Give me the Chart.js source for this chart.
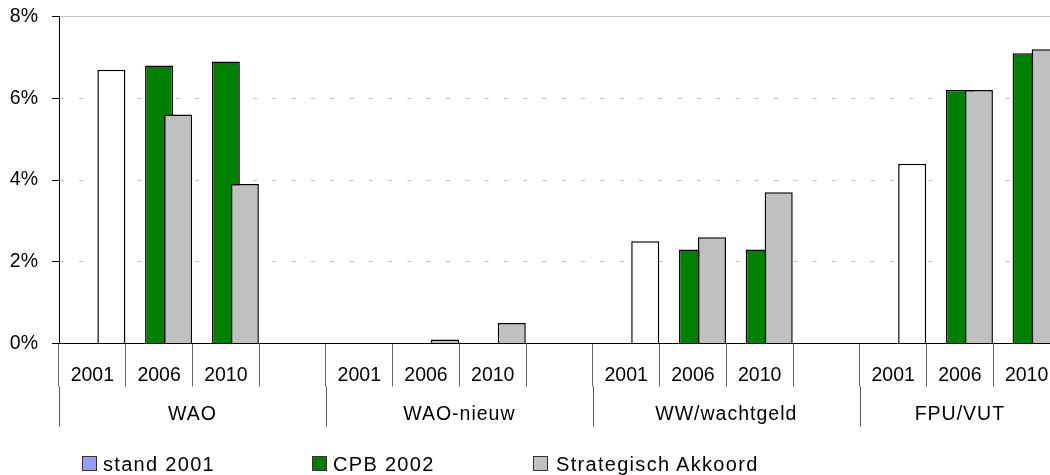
<!DOCTYPE html>
<html>
<head>
<meta charset="utf-8">
<script src="https://cdn.jsdelivr.net/npm/chart.js@4/dist/chart.umd.min.js"></script>
<style>
  body { margin: 0; background: #fff; overflow: hidden; }
  #wrap { position: relative; width: 1050px; height: 475px; overflow: hidden; }
  #chart { position: absolute; left: 0; top: 0; }
  .box { position: absolute; top: 456px; width: 13px; height: 13px; border: 1px solid #333; }
  .txt { position: absolute; top: 452.5px; line-height: 23px; font: 20px "Liberation Sans", Arial, sans-serif; letter-spacing: 1.3px; color: #000; white-space: nowrap; }
</style>
</head>
<body>
<div id="wrap">
  <canvas id="chart" width="1130" height="475"></canvas>
  <div class="box" style="left:82px; background:#9999ff"></div><div class="txt" style="left:103px">stand 2001</div>
  <div class="box" style="left:312px; background:#008000"></div><div class="txt" style="left:333px">CPB 2002</div>
  <div class="box" style="left:533px; background:#c0c0c0"></div><div class="txt" style="left:556px">Strategisch Akkoord</div>
</div>
<script>
var groups = ['WAO', 'WAO-nieuw', 'WW/wachtgeld', 'FPU/VUT'];
var years = ['2001', '2006', '2010', ''];

// one value per slot: 2001, 2006, 2010, (empty) for each group
var stand2001   = [6.7, null, null, null,   null, null, null, null,   2.5, null, null, null,   4.4, null, null, null];
var cpb2002     = [null, 6.8, 6.9, null,   null, null, null, null,   null, 2.3, 2.3, null,   null, 6.2, 7.1, null];
var strategisch = [null, 5.6, 3.9, null,   null, 0.1, 0.5, null,   null, 2.6, 3.7, null,   null, 6.2, 7.2, null];

var yTicks = [0, 2, 4, 6, 8];

var labels = [];
groups.forEach(function (g) {
    years.forEach(function (y) { labels.push(y); });
});

var font = { family: 'Liberation Sans', size: 19.5 };

function empty() {
    return labels.map(function () { return null; });
}

// second label row (WAO, ...) with the long separators
var groupAxis = {
    id: 'groupAxis',
    afterDraw: function (c) {
        var x = c.scales.x, ctx = c.ctx;
        var slot = x.width / labels.length;
        var top = x.top;
        ctx.save();
        ctx.strokeStyle = '#555';
        ctx.lineWidth = 1;
        ctx.fillStyle = '#000';
        ctx.font = '19.5px "Liberation Sans"';
        ctx.letterSpacing = '1px';
        ctx.textAlign = 'center';
        ctx.textBaseline = 'middle';
        groups.forEach(function (g, i) {
            var left = x.getPixelForValue(i * years.length) - slot / 2;
            // last group is cut off by the window, centre it on what is left
            var right = Math.min(left + slot * years.length, 1060);
            var px = Math.round(left) + 0.5;
            ctx.beginPath();
            ctx.moveTo(px, top + 43);
            ctx.lineTo(px, top + 83);
            ctx.stroke();
            ctx.fillText(g, (left + right) / 2, top + 71);
        });
        ctx.restore();
    }
};

var bar = {
    borderColor: '#000',
    borderWidth: 1.5,
    categoryPercentage: 0.855,
    barPercentage: 1.474
};

var chart = new Chart(document.getElementById('chart'), {
    type: 'bar',
    data: {
        labels: labels,
        datasets: [
            Object.assign({ label: '', data: empty(), stack: 'a' }, bar),
            Object.assign({ label: '', data: empty(), stack: 'b' }, bar),
            Object.assign({ label: 'Strategisch Akkoord', data: strategisch, stack: 'c', backgroundColor: '#c0c0c0' }, bar),
            Object.assign({ label: 'CPB 2002', data: cpb2002, stack: 'b', backgroundColor: '#008000' }, bar),
            Object.assign({ label: 'stand 2001', data: stand2001, stack: 'c', backgroundColor: '#ffffff' }, bar)
        ]
    },
    options: {
        responsive: false,
        animation: false,
        layout: { padding: { top: 16.5, right: 3.3, left: 0, bottom: 0 } },
        plugins: { legend: { display: false }, tooltip: { enabled: false } },
        scales: {
            x: {
                offset: true,
                grid: { offset: true, drawOnChartArea: false, drawTicks: true, tickLength: 43, color: '#666', tickColor: '#666' },
                border: { color: '#000' },
                ticks: { color: '#000', font: font, padding: -22.5, autoSkip: false, maxRotation: 0 },
                afterFit: function (s) {
                    s.height = 475 - 343.5;
                    s.paddingLeft = 0;
                    s.paddingRight = 0;
                }
            },
            top: {
                type: 'category',
                position: 'top',
                grid: { display: false },
                ticks: { display: false },
                border: { display: true, color: '#c0c0c0' },
                afterFit: function (s) { s.height = 0; }
            },
            y: {
                min: 0,
                max: 8,
                afterBuildTicks: function (s) {
                    s.ticks = yTicks.map(function (v) { return { value: v }; });
                },
                ticks: {
                    color: '#000',
                    font: font,
                    padding: 14,
                    callback: function (v) { return v + '%'; }
                },
                grid: {
                    color: function (ctx) {
                        var v = ctx.tick && ctx.tick.value;
                        return (v === 0 || v === 8) ? 'rgba(0,0,0,0)' : '#c0c0c0';
                    },
                    tickColor: '#000',
                    tickLength: 7
                },
                border: { color: '#000', dash: [4, 15.3] },
                afterFit: function (s) {
                    s.width = 59;
                    s.paddingTop = 0;
                    s.paddingBottom = 0;
                }
            }
        }
    },
    plugins: [groupAxis]
});
</script>
</body>
</html>
